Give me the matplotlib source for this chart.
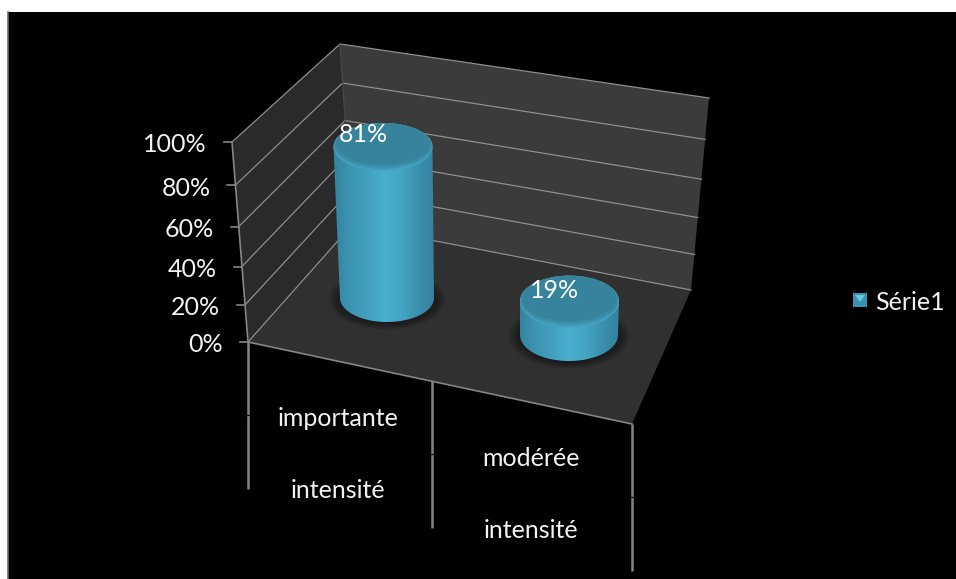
"""Pseudo-3D cylinder chart with walls, floor and two-level category labels."""
import numpy as np
import matplotlib
matplotlib.use("Agg")
import matplotlib.pyplot as plt
from matplotlib.colors import LinearSegmentedColormap
from matplotlib.patches import Ellipse, PathPatch, Polygon, Rectangle
from matplotlib.path import Path

categories = ["importante", "modérée"]
group_label = "intensité"
values = [81, 19]
percent_ticks = [0, 20, 40, 60, 80, 100]
series_name = "Série1"

plt.rcParams["font.family"] = ["Lato", "DejaVu Sans"]

GRID = "#8e8e8e"
AXIS = "#858585"
TEXT = "#f2f2f2"
FONT = 18

# wall corners in canvas pixels: (x, y) at 0% and at 100%
FRONT = ((248, 342), (232, 142))
BACK = ((352, 225), (340, 44))
RIGHT = ((691, 290), (709, 98))
CORNER = (632, 424)

# cylinder placement: base centre, base radius, lean towards the back
BASES = [(387, 298), (569, 335)]
BASE_RX = [47, 49]
TOP_RX = 49.5
RY = [24, 26]
LEAN = [-4, 0.5]
FULL_HEIGHT = 190

body_cmap = LinearSegmentedColormap.from_list(
    "body", ["#337f9b", "#3c93b1", "#429fbe", "#4aafce", "#44a4c3", "#3b8fac", "#337f9b"])


def persp(pct):
    """Foreshortened fraction of the axis height for a percent value."""
    v = pct / 100
    return v / (v + (1 - v) * 1.1) if v > 0 else 0.0


def edge(points, pct):
    (x0, y0), (x1, y1) = points
    t = persp(pct)
    return x0 + (x1 - x0) * t, y0 + (y1 - y0) * t


def shadow(ax, cx, cy, rx, ry):
    for grow in np.arange(1, 13, 1.5):
        ax.add_patch(Ellipse((cx, cy + 1), 2 * (rx + grow), 2 * (ry + grow * 0.6),
                             fc="black", ec="none", alpha=0.06, zorder=3))


def cylinder(ax, cx, cy, rx_base, ry, pct, lean):
    height = FULL_HEIGHT * persp(pct)
    tx, ty = cx + lean, cy - height
    shadow(ax, cx, cy, rx_base, ry)

    # side wall: straight edges closed by the lower half of the base ellipse
    theta = np.linspace(np.pi, 0, 60)
    low_x = cx + rx_base * np.cos(theta)
    low_y = cy + ry * np.sin(theta)
    verts = [(tx - TOP_RX, ty)] + list(zip(low_x, low_y)) + [(tx + TOP_RX, ty), (tx - TOP_RX, ty)]
    clip = PathPatch(Path(verts), fc="none", ec="none", transform=ax.transData)
    ax.add_patch(clip)
    grad = np.linspace(0, 1, 256)[None, :]
    left, right = min(tx, cx) - TOP_RX - 2, max(tx, cx) + TOP_RX + 2
    im = ax.imshow(grad, cmap=body_cmap, extent=(left, right, cy + ry + 2, ty - 2),
                   aspect="auto", zorder=4, interpolation="bilinear")
    im.set_clip_path(clip)

    # top face with a soft lighter bevel along its lower rim
    ax.add_patch(Ellipse((tx, ty), 2 * TOP_RX, 2 * ry, fc="#45a2c0", ec="none", zorder=5))
    ax.add_patch(Ellipse((tx, ty - 1), 2 * TOP_RX, 2 * ry - 2, fc="#3e94b1", ec="none", zorder=5))
    ax.add_patch(Ellipse((tx, ty - 2), 2 * TOP_RX - 2, 2 * ry - 5, fc="#3a8aa6", ec="none", zorder=5))
    ax.add_patch(Ellipse((tx, ty - 3), 2 * TOP_RX - 5, 2 * ry - 7, fc="#37829c", ec="none", zorder=5))


fig = plt.figure(figsize=(9.56, 5.79), dpi=100, facecolor="white")
ax = fig.add_axes([0, 0, 1, 1])
ax.axis("off")

ax.add_patch(Rectangle((8, 12), 960, 580, fc="black", ec="none", zorder=0))
ax.plot([8.5, 8.5], [12, 579], color="#6a6a6a", lw=1.2, zorder=1)

# walls and floor
ax.add_patch(Polygon([FRONT[0], FRONT[1], BACK[1], BACK[0]], fc="#2a2a2a", ec="none", zorder=1))
ax.add_patch(Polygon([BACK[0], BACK[1], RIGHT[1], RIGHT[0]], fc="#3b3b3b", ec="none", zorder=1))
ax.add_patch(Polygon([FRONT[0], BACK[0], RIGHT[0], CORNER], fc="#303030", ec="none", zorder=1))

for pct in percent_ticks:
    fx, fy = edge(FRONT, pct)
    bx, by = edge(BACK, pct)
    rx, ry = edge(RIGHT, pct)
    ax.plot([fx, bx, rx], [fy, by, ry], color=GRID, lw=0.9, zorder=2)
    ax.plot([fx - 8, fx], [fy, fy], color=AXIS, lw=1.2, zorder=2)
    ax.text(fx - 25, fy + 3, f"{pct}%", color=TEXT, fontsize=FONT,
            ha="right", va="center", zorder=7)

ax.plot([FRONT[0][0], FRONT[1][0]], [FRONT[0][1], FRONT[1][1]], color=AXIS, lw=1.2, zorder=2)
ax.plot([BACK[1][0], BACK[0][0]], [BACK[1][1], BACK[0][1]], color="#4a4a4a", lw=0.8, zorder=2)
ax.plot([FRONT[0][0], CORNER[0]], [FRONT[0][1], CORNER[1]], color=AXIS, lw=1.2, zorder=2)

# category axis: long drop lines separating the two label rows
for x, y in [(248, 342), (432, 381), (632, 424)]:
    ax.plot([x, x], [y, y + 147], color=AXIS, lw=1.8, zorder=2, solid_capstyle="butt")
    ax.plot([x - 1.5, x + 1.5], [y + 73, y + 73], color="black", lw=0.8, zorder=3)

label_pos = [(338, 418, 490), (531, 458, 530)]
for name, (x, y1, y2) in zip(categories, label_pos):
    ax.text(x, y1, name, color=TEXT, fontsize=FONT, ha="center", va="center", zorder=7)
    ax.text(x, y2, group_label, color=TEXT, fontsize=FONT, ha="center", va="center", zorder=7)

for i, val in enumerate(values):
    cylinder(ax, BASES[i][0], BASES[i][1], BASE_RX[i], RY[i], val, LEAN[i])

for val, (x, y) in zip(values, [(363, 134), (555, 290)]):
    ax.text(x, y, f"{val}%", color="white", fontsize=FONT, ha="center", va="center", zorder=8)

# legend key
ax.add_patch(Rectangle((853, 293), 14, 14, fc="#3a93b2", ec="none", zorder=5))
ax.add_patch(Polygon([(855, 295), (865, 295), (860, 302)], fc="#6cc8de", ec="none", zorder=6))
ax.text(875, 303, series_name, color=TEXT, fontsize=FONT, ha="left", va="center", zorder=7)

ax.set_xlim(0, 956)
ax.set_ylim(579, 0)
fig.savefig("out.png", dpi=100, facecolor=fig.get_facecolor())
